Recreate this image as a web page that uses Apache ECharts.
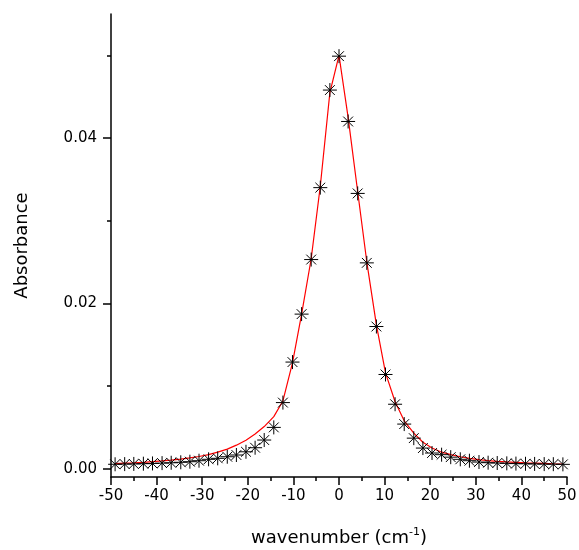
<!DOCTYPE html>
<html><head><meta charset="utf-8">
<script src="https://cdn.jsdelivr.net/npm/echarts@6/dist/echarts.min.js"></script>
<style>html,body{margin:0;padding:0;background:#fff}#c{width:579px;height:550px}</style>
</head><body><div id="c"></div>
<script>
const xVals = [-49.1, -47.0, -45.0, -42.9, -40.9, -38.8, -36.8, -34.7, -32.7, -30.7, -28.6, -26.6, -24.5, -22.5, -20.4, -18.4, -16.4, -14.3, -12.3, -10.2, -8.2, -6.1, -4.1, -2.0, 0, 2.0, 4.1, 6.1, 8.2, 10.2, 12.3, 14.3, 16.4, 18.4, 20.4, 22.5, 24.5, 26.6, 28.6, 30.7, 32.7, 34.7, 36.8, 38.8, 40.9, 42.9, 45.0, 47.0, 49.1];
const absorbance = [0.00054, 0.00056, 0.00058, 0.00061, 0.00064, 0.00068, 0.00072, 0.00078, 0.00085, 0.00097, 0.00114, 0.00126, 0.00145, 0.00166, 0.00205, 0.00254, 0.00347, 0.0050, 0.0080, 0.0129, 0.0187, 0.0253, 0.0340, 0.0458, 0.0499, 0.0420, 0.0333, 0.0249, 0.0172, 0.0114, 0.0078, 0.0054, 0.0037, 0.0025, 0.0019, 0.0017, 0.0014, 0.00114, 0.00097, 0.00081, 0.00073, 0.00069, 0.00065, 0.00062, 0.00060, 0.00058, 0.00056, 0.00055, 0.00053];
const fitVals = [0.00062, 0.00067, 0.00072, 0.00078, 0.00086, 0.00095, 0.00105, 0.00117, 0.00131, 0.00148, 0.00170, 0.00200, 0.00237, 0.00285, 0.00345, 0.0042, 0.0051, 0.0063, 0.0082, 0.0128, 0.0187, 0.0254, 0.0342, 0.0455, 0.0500, 0.0425, 0.0335, 0.0250, 0.0174, 0.0116, 0.0081, 0.0058, 0.0043, 0.0032, 0.0025, 0.0020, 0.0017, 0.00145, 0.00125, 0.00110, 0.00098, 0.00090, 0.00082, 0.00077, 0.00072, 0.00068, 0.00064, 0.00060, 0.00057];
const yMajorTicks = [0, 0.02, 0.04];
const yMinorTicks = [0.01, 0.03, 0.05];
const xTitle = 'wavenumber (cm{sup|-1})';
const yTitle = 'Absorbance';

const font = 'DejaVu Sans';
const chart = echarts.init(document.getElementById('c'), null, {renderer: 'canvas'});
const pts = xVals.map((x, i) => [x, absorbance[i]]);
const fit = xVals.map((x, i) => [x, fitVals[i]]);
chart.setOption({
  animation: false,
  backgroundColor: '#fff',
  textStyle: {fontFamily: font, color: '#000'},
  grid: {left: 111, right: 12, top: 14, bottom: 73, containLabel: false, outerBoundsMode: 'none'},
  xAxis: {
    type: 'value', min: -50, max: 50, interval: 10,
    name: xTitle, nameLocation: 'middle', nameGap: 50,
    nameTextStyle: {fontFamily: font, fontSize: 18, color: '#000', lineHeight: 22,
      rich: {sup: {fontFamily: font, fontSize: 11, verticalAlign: 'top', lineHeight: 11, color: '#000'}}},
    axisLine: {show: true, onZero: false, lineStyle: {color: '#000', width: 1.5}},
    axisTick: {show: true, inside: false, length: 8, lineStyle: {color: '#000', width: 1.5}},
    minorTick: {show: true, splitNumber: 2, length: 4, lineStyle: {color: '#000', width: 1.5}},
    axisLabel: {fontFamily: font, fontSize: 15, color: '#000', margin: 12},
    splitLine: {show: false}
  },
  yAxis: [{
    type: 'value', min: -0.001, max: 0.055, position: 'left',
    name: yTitle, nameLocation: 'middle', nameGap: 80, nameRotate: 90,
    nameTextStyle: {fontFamily: font, fontSize: 18, color: '#000'},
    axisLine: {show: true, onZero: false, lineStyle: {color: '#000', width: 1.5}},
    axisTick: {show: true, inside: false, length: 8, customValues: yMajorTicks, lineStyle: {color: '#000', width: 1.5}},
    axisLabel: {fontFamily: font, fontSize: 15, color: '#000', margin: 14, customValues: yMajorTicks,
      formatter: v => v.toFixed(2)},
    splitLine: {show: false}
  }, {
    type: 'value', min: -0.001, max: 0.055, position: 'left', offset: 0,
    axisLine: {show: false, onZero: false},
    axisTick: {show: true, inside: false, length: 4, customValues: yMinorTicks, lineStyle: {color: '#000', width: 1.5}},
    axisLabel: {show: false},
    splitLine: {show: false}
  }],
  series: [{
    type: 'line', data: fit, showSymbol: false, symbol: 'none',
    lineStyle: {color: '#ff0000', width: 1.2}, z: 2, silent: true
  }, {
    type: 'scatter', data: pts,
    symbol: 'path://M10,0L10,20M0,10L20,10M3,3L17,17M3,17L17,3',
    symbolSize: 14,
    itemStyle: {color: 'none', borderColor: '#000', borderWidth: 1, opacity: 1},
    z: 3, silent: true
  }]
});
</script></body></html>
